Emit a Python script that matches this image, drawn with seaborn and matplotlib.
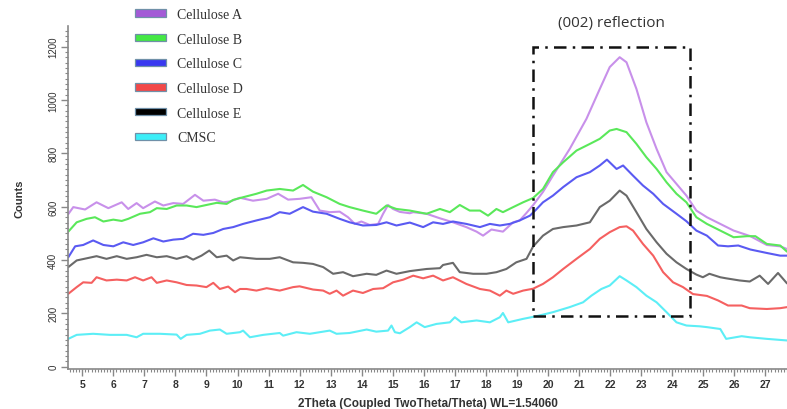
import numpy as np
import pandas as pd
import seaborn as sns
import matplotlib
matplotlib.use("Agg")
import matplotlib.pyplot as plt
from matplotlib.patches import Patch, Rectangle
from matplotlib.ticker import MultipleLocator

# ---------------- data ----------------
tt_A = [4.55, 4.71, 5.09, 5.46, 5.84, 6.27, 6.48, 6.75, 6.96, 7.34, 7.61, 7.93, 8.25, 8.63, 8.9,
        9.27, 9.54, 9.76, 10.08, 10.5, 10.94, 11.31, 11.63, 12.0, 12.38, 12.65, 12.97, 13.29, 13.56,
        13.78, 13.99, 14.26, 14.53, 14.69, 14.85, 15.01, 15.23, 15.55, 15.66, 16.09, 16.52, 16.94,
        17.37, 17.7, 17.91, 18.18, 18.55, 18.88, 19.09, 19.3, 19.52, 19.84, 20.16, 20.7, 21.24,
        21.67, 21.99, 22.31, 22.53, 22.85, 23.17, 23.5, 23.82, 24.14, 24.46, 24.78, 25.12, 25.55,
        25.98, 26.52, 27.05, 27.48, 27.7]
cel_A = [572, 598, 589, 616, 594, 616, 591, 613, 594, 619, 604, 613, 610, 644, 622,
         626, 616, 619, 633, 622, 629, 648, 626, 629, 635, 585, 579, 581, 560,
         535, 544, 531, 535, 573, 606, 591, 580, 575, 579, 573, 556, 541,
         523, 506, 491, 514, 506, 541, 548, 575, 605, 655, 716, 816, 929,
         1041, 1123, 1160, 1141, 1041, 916, 816, 729, 685, 641, 585, 560, 535,
         510, 489, 456, 451, 441]

tt_B = [4.55, 4.82, 5.14, 5.41, 5.68, 6.0, 6.27, 6.48, 6.86, 7.18, 7.4, 7.72, 8.04, 8.36, 8.68,
        9.0, 9.33, 9.65, 9.86, 10.18, 10.61, 10.94, 11.36, 11.79, 12.11, 12.43, 12.87, 13.29,
        13.61, 14.04, 14.47, 14.8, 15.12, 15.55, 16.09, 16.52, 16.84, 17.16, 17.48, 17.81, 18.07,
        18.34, 18.55, 18.88, 19.2, 19.52, 19.84, 20.16, 20.49, 20.92, 21.35, 21.67, 21.99, 22.21,
        22.53, 22.85, 23.17, 23.5, 23.82, 24.14, 24.46, 24.78, 25.12, 25.55, 25.98, 26.41, 26.68,
        27.05, 27.48, 27.7]
cel_B = [506, 541, 554, 560, 544, 551, 546, 554, 573, 579, 594, 591, 604, 604, 598,
         606, 614, 610, 625, 635, 648, 660, 666, 660, 681, 656, 635, 610,
         598, 585, 573, 604, 591, 585, 573, 591, 579, 606, 585, 585, 566,
         591, 579, 598, 616, 632, 666, 729, 766, 810, 835, 854, 885, 891,
         879, 835, 785, 741, 691, 648, 616, 560, 535, 510, 485, 489, 489,
         460, 454, 431]

tt_C = [4.55, 4.77, 5.03, 5.35, 5.68, 6.0, 6.32, 6.64, 6.96, 7.29, 7.61, 7.93, 8.25, 8.57, 8.9,
        9.22, 9.54, 9.86, 10.18, 10.61, 11.04, 11.36, 11.68, 12.11, 12.43, 12.87, 13.29, 13.61,
        14.04, 14.47, 14.8, 15.12, 15.55, 15.98, 16.3, 16.62, 16.94, 17.37, 17.81, 18.13, 18.45,
        18.77, 19.09, 19.42, 19.63, 19.84, 20.16, 20.49, 20.92, 21.35, 21.67, 21.9, 22.21, 22.42,
        22.74, 23.06, 23.39, 23.71, 24.14, 24.46, 24.78, 25.12, 25.48, 25.8, 26.13, 26.52, 27.05,
        27.48, 27.7]
cel_C = [410, 451, 456, 473, 456, 451, 466, 456, 466, 481, 469, 476, 479, 498, 494,
         501, 516, 523, 535, 548, 560, 579, 573, 598, 581, 573, 554, 541,
         529, 531, 541, 529, 540, 523, 541, 535, 544, 535, 523, 535, 529,
         535, 548, 566, 590, 616, 641, 673, 710, 729, 754, 776, 741, 754,
         716, 679, 648, 610, 573, 545, 510, 491, 454, 451, 454, 439, 426,
         416, 416]

tt_D = [4.55, 4.82, 5.03, 5.3, 5.46, 5.78, 6.11, 6.43, 6.7, 6.96, 7.23, 7.4, 7.72, 8.04, 8.36,
        8.68, 9.0, 9.22, 9.43, 9.7, 9.92, 10.08, 10.29, 10.61, 10.94, 11.36, 11.79, 12.0, 12.43,
        12.76, 12.97, 13.19, 13.4, 13.72, 14.04, 14.37, 14.69, 15.01, 15.34, 15.66, 15.98, 16.3,
        16.62, 16.94, 17.37, 17.81, 18.13, 18.45, 18.66, 18.88, 19.2, 19.52, 19.84, 20.16, 20.49,
        20.92, 21.35, 21.67, 21.99, 22.31, 22.53, 22.74, 23.06, 23.39, 23.71, 24.03, 24.35, 24.67,
        25.12, 25.48, 25.8, 26.24, 26.5, 27.05, 27.48, 27.7]
cel_D = [273, 298, 316, 314, 335, 323, 326, 323, 335, 323, 335, 314, 323, 316, 306,
         304, 298, 314, 291, 300, 279, 291, 291, 285, 294, 285, 298, 301, 289,
         285, 273, 285, 266, 285, 276, 291, 294, 316, 326, 341, 331, 341,
         323, 335, 310, 291, 285, 266, 285, 273, 285, 292, 310, 335, 366,
         404, 441, 479, 504, 523, 526, 510, 460, 416, 354, 316, 298, 272,
         265, 248, 229, 229, 219, 216, 219, 223]

tt_E = [4.55, 4.82, 5.14, 5.46, 5.78, 6.11, 6.43, 6.75, 7.07, 7.4, 7.72, 8.04, 8.36, 8.57, 8.84,
        9.09, 9.33, 9.65, 9.86, 10.08, 10.61, 11.04, 11.36, 11.79, 12.11, 12.43, 12.76, 13.08,
        13.4, 13.72, 14.16, 14.47, 14.8, 15.12, 15.55, 16.09, 16.52, 16.62, 16.94, 17.16, 17.59,
        18.02, 18.34, 18.66, 18.98, 19.31, 19.52, 19.84, 20.16, 20.49, 20.92, 21.35, 21.67, 21.99,
        22.31, 22.53, 22.85, 23.17, 23.5, 23.82, 24.14, 24.46, 24.78, 24.99, 25.2, 25.55, 25.74,
        26.17, 26.5, 26.82, 27.09, 27.41, 27.7]
cel_E = [373, 398, 406, 414, 404, 414, 404, 410, 419, 410, 414, 404, 414, 401, 416,
         435, 410, 416, 398, 410, 404, 404, 410, 391, 389, 385, 373, 348,
         354, 339, 348, 344, 360, 348, 358, 366, 369, 381, 389, 354, 348,
         348, 354, 366, 391, 404, 450, 491, 516, 523, 529, 541, 598, 622,
         660, 641, 579, 516, 466, 423, 391, 366, 345, 335, 348, 335, 331,
         323, 319, 341, 310, 351, 312]

tt_M = [4.55, 4.82, 5.35, 5.89, 6.43, 6.75, 6.96, 7.5, 8.04, 8.17, 8.36, 8.79, 9.11, 9.43, 9.65,
        10.08, 10.18, 10.4, 10.83, 11.36, 11.47, 11.9, 12.33, 12.97, 13.19, 13.61, 14.16, 14.47,
        14.85, 14.96, 15.07, 15.23, 15.55, 15.77, 16.03, 16.41, 16.84, 17.0, 17.21, 17.7, 18.13,
        18.45, 18.55, 18.72, 19.2, 19.63, 20.16, 20.7, 21.13, 21.4, 21.72, 21.99, 22.31, 22.53,
        22.85, 23.17, 23.5, 23.82, 24.14, 24.46, 24.89, 25.12, 25.55, 25.74, 26.24, 26.5, 27.05,
        27.7]
cmsc = [104, 119, 123, 119, 119, 110, 123, 123, 120, 104, 119, 123, 135, 139, 123,
        129, 135, 110, 119, 126, 116, 129, 123, 135, 123, 126, 139, 131,
        135, 154, 129, 125, 148, 166, 148, 160, 166, 185, 166, 173, 166,
        185, 201, 166, 179, 189, 204, 223, 241, 266, 291, 304, 339, 323,
        298, 266, 241, 204, 166, 154, 151, 148, 141, 104, 114, 110, 104,
        98]

series_names = ["Cellulose A", "Cellulose B", "Cellulose C", "Cellulose D", "Cellulose E", "CMSC"]
line_colors = ["#C890EA", "#5AE85A", "#5A5AF2", "#F56060", "#6A6A6A", "#5CEEF6"]
legend_colors = ["#A35AD6", "#44E844", "#3838F0", "#F24848", "#000000", "#3CEEF8"]

box_x = [19.52, 24.56]
box_y = [190, 1197]

# ---------------- build long table ----------------
frames = []
for name, xs, ys in zip(series_names,
                        [tt_A, tt_B, tt_C, tt_D, tt_E, tt_M],
                        [cel_A, cel_B, cel_C, cel_D, cel_E, cmsc]):
    frames.append(pd.DataFrame({"2theta": xs, "Counts": ys, "sample": name}))
df = pd.concat(frames, ignore_index=True)

sns.set_theme(style="ticks")
plt.rcParams["font.family"] = ["Liberation Sans", "DejaVu Sans"]

fig = plt.figure(figsize=(7.87, 4.10), dpi=100)
ax = fig.add_axes([68 / 787, 1 - 370 / 410, 1 - 68 / 787, (370 - 27) / 410])

sns.lineplot(data=df, x="2theta", y="Counts", hue="sample", hue_order=series_names,
             palette=dict(zip(series_names, line_colors)), linewidth=1.5,
             estimator=None, sort=True, legend=False, ax=ax)

ax.set_xlim(4.54, 27.7)
ax.set_ylim(-9, 1277)
for s in ["top", "right"]:
    ax.spines[s].set_visible(False)
for s in ["left", "bottom"]:
    ax.spines[s].set_color("#888888")
    ax.spines[s].set_linewidth(1.2)

ax.xaxis.set_major_locator(MultipleLocator(1))
ax.xaxis.set_minor_locator(MultipleLocator(0.1))
ax.yaxis.set_major_locator(MultipleLocator(200))
ax.yaxis.set_minor_locator(MultipleLocator(20))
ax.tick_params(axis="x", which="major", length=5, width=1, color="#888888",
               labelsize=7.5, labelcolor="#333333", pad=2)
ax.tick_params(axis="x", which="minor", length=2.5, width=0.8, color="#888888")
ax.tick_params(axis="y", which="major", length=5, width=1, color="#888888",
               labelsize=7, labelcolor="#333333", labelrotation=90, pad=2)
ax.tick_params(axis="y", which="minor", length=2.5, width=0.8, color="#888888")
for lab in ax.get_xticklabels():
    lab.set_fontweight("bold")
for lab in ax.get_yticklabels():
    lab.set_va("center")

ax.set_xlabel("2Theta (Coupled TwoTheta/Theta) WL=1.54060", fontsize=8.5,
              fontweight="bold", color="#333333", labelpad=6)
ax.set_ylabel("Counts", fontsize=8, fontweight="bold", color="#333333", labelpad=17)

# dash-dot box around the (002) reflection
ax.add_patch(Rectangle((box_x[0], box_y[0]), box_x[1] - box_x[0], box_y[1] - box_y[0],
                       fill=False, edgecolor="#111111", linewidth=1.8,
                       linestyle=(0, (5, 2.5, 1, 2.5)), zorder=5))

fig.text(611.7 / 787, 1 - 24 / 410, "(002) reflection", ha="center", va="center",
         fontsize=11, color="#333333", family=["Open Sans", "DejaVu Sans"])

handles = [Patch(facecolor=c, edgecolor="#7090A8", linewidth=0.9) for c in legend_colors]
fig.legend(handles, series_names, loc="upper left",
           bbox_to_anchor=(135 / 787, 1 - 9 / 410), frameon=False,
           prop={"family": ["Liberation Serif", "DejaVu Serif"], "size": 10},
           handlelength=2.2, handleheight=0.45, handletextpad=0.85,
           labelspacing=0.84, borderpad=0, borderaxespad=0, labelcolor="#333333")

fig.savefig("out.png", dpi=100)
